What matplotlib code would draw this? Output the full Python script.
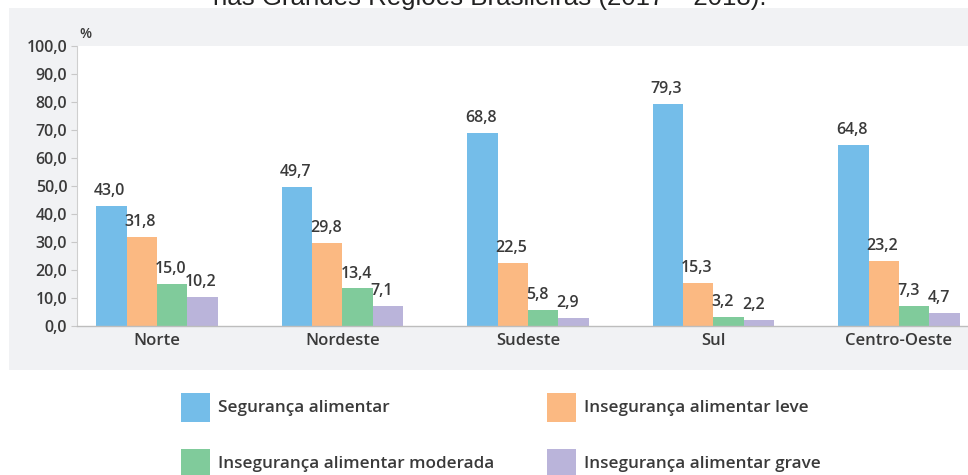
import matplotlib
matplotlib.use("Agg")
import matplotlib.pyplot as plt
from matplotlib.patches import Rectangle
import numpy as np

regions = ["Norte", "Nordeste", "Sudeste", "Sul", "Centro-Oeste"]
series_names = ["Segurança alimentar", "Insegurança alimentar leve",
                "Insegurança alimentar moderada", "Insegurança alimentar grave"]
seguranca = [43.0, 49.7, 68.8, 79.3, 64.8]
leve = [31.8, 29.8, 22.5, 15.3, 23.2]
moderada = [15.0, 13.4, 5.8, 3.2, 7.3]
grave = [10.2, 7.1, 2.9, 2.2, 4.7]
yticks = [0, 10, 20, 30, 40, 50, 60, 70, 80, 90, 100]
title = "nas Grandes Regiões Brasileiras (2017 – 2018)."

colors = ["#74bde9", "#fbb982", "#80cb9b", "#bab4da"]
txt = "#3a3a3a"
W, H = 968, 475
font = "Open Sans"

fig = plt.figure(figsize=(W / 100, H / 100), dpi=100)
fig.patch.set_facecolor("white")

# gray panel behind the chart
fig.patches.append(Rectangle((9 / W, 1 - 370 / H), 1 - 9 / W, (370 - 8) / H,
                             transform=fig.transFigure, facecolor="#f1f2f4",
                             edgecolor="none", zorder=-5))

ax = fig.add_axes([77 / W, 1 - 326 / H, (968 - 77) / W, (326 - 46) / H])
ax.set_zorder(2)
ax.set_facecolor("white")

x = np.arange(len(regions))
bw = 0.164
data = [seguranca, leve, moderada, grave]
for i, (vals, c) in enumerate(zip(data, colors)):
    pos = x + (i - 1.5) * bw
    bars = ax.bar(pos, vals, width=bw, color=c, edgecolor="none", zorder=2)
    for b, v in zip(bars, vals):
        ax.annotate(f"{v:.1f}".replace(".", ","), (b.get_x(), v),
                    xytext=(-1.5, 5), textcoords="offset points",
                    ha="left", va="bottom", fontsize=11.5, fontweight="semibold",
                    color=txt, family=font)

ax.set_xlim(-0.431, 4.372)
ax.set_ylim(0, 100)
ax.set_yticks(yticks)
ax.set_yticklabels([f"{t:.1f}".replace(".", ",") for t in yticks],
                   fontsize=11.5, fontweight="semibold", color=txt, family=font)
ax.set_xticks(x)
ax.set_xticklabels(regions, fontsize=12, fontweight="semibold", color=txt, family=font)
ax.tick_params(axis="y", length=4, width=0.8, color="#c8c8c8", pad=3)
ax.tick_params(axis="x", length=0, pad=5)
for s in ["top", "right"]:
    ax.spines[s].set_visible(False)
ax.spines["left"].set_color("#cfcfcf")
ax.spines["bottom"].set_color("#bdbdbd")
ax.spines["left"].set_linewidth(0.8)
ax.spines["bottom"].set_linewidth(1.0)

fig.text(79 / W, 1 - 38 / H, "%", fontsize=10, fontweight="semibold", color=txt,
         family=font, ha="left", va="baseline")

# title (clipped at top, as in the reference)
fig.text(490 / W, 1 - 5 / H, title, fontsize=18.6, color="#222222",
         family="Liberation Sans", ha="center", va="baseline")

# legend
cols_x = [181, 547]
rows_y = [393, 449]
for k, (name, c) in enumerate(zip(series_names, colors)):
    cx = cols_x[k % 2]
    ry = rows_y[k // 2]
    fig.patches.append(Rectangle((cx / W, 1 - (ry + 29) / H), 29 / W, 29 / H,
                                 transform=fig.transFigure, facecolor=c,
                                 edgecolor="none"))
    fig.text((cx + 37) / W, 1 - (ry + 15) / H, name, fontsize=12.3,
             fontweight="semibold", color=txt, family=font, ha="left", va="center")

fig.savefig("out.png", dpi=100)
